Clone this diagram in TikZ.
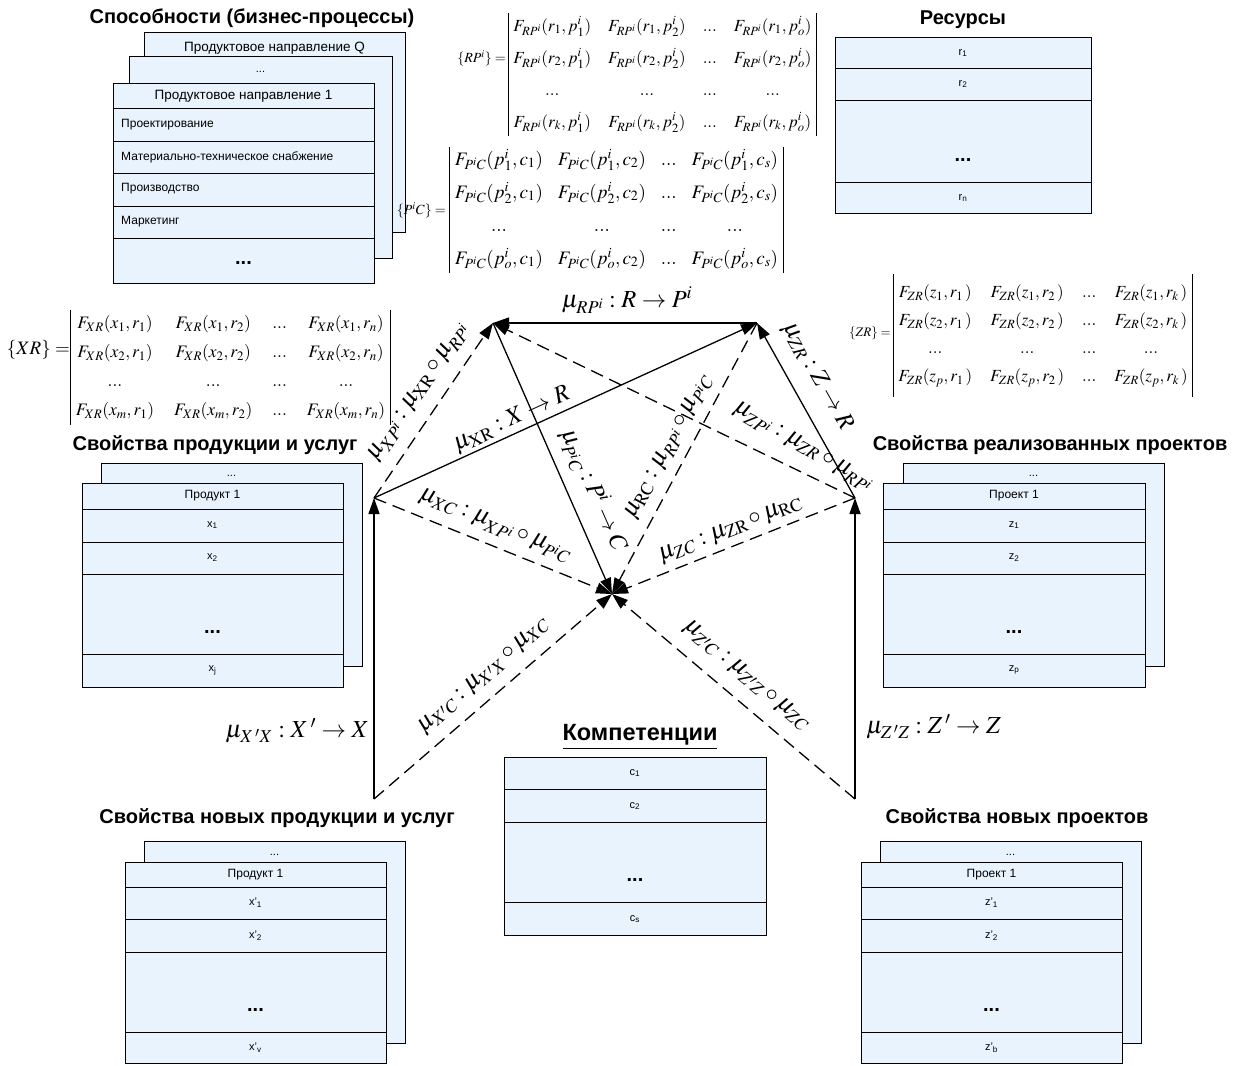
\documentclass[tikz,border=0pt]{standalone}
\usepackage{mathptmx}
\usepackage[no-math]{fontspec}
\setmainfont{Liberation Sans}
\usetikzlibrary{arrows.meta,matrix}
\definecolor{boxfill}{RGB}{232,243,253}
\begin{document}
\begin{tikzpicture}[x=1pt,y=-1pt]
\tikzset{
 bx/.style={draw=black, fill=boxfill, line width=0.9pt},
 sepl/.style={draw=black, line width=0.9pt},
 ttl/.style={font=\fontsize{20}{24}\selectfont\bfseries, inner sep=0},
 hdr/.style={font=\fontsize{13.5}{16}\selectfont, inner sep=0},
 itm/.style={font=\fontsize{12}{14}\selectfont, inner sep=0},
 itml/.style={itm, anchor=west},
 sitm/.style={font=\fontsize{11}{13}\selectfont, inner sep=0},
 bdots/.style={font=\fontsize{20}{22}\selectfont\bfseries, inner sep=0},
 lbl/.style={font=\fontsize{24.5}{29}\selectfont, inner sep=0},
 mlbl/.style={font=\fontsize{14}{17}\selectfont, inner sep=0},
 sl/.style={line width=1.3pt, -{Triangle[length=16pt,width=11pt]}},
 dl/.style={sl, dash pattern=on 13pt off 7pt},
 mat/.style={matrix of math nodes, inner xsep=5pt, inner ysep=4pt,
   nodes={inner sep=0, text height=14pt, text depth=5pt, font=\fontsize{19}{23}\selectfont}},
 mbar/.style={line width=0.9pt},
}
\fill[white] (0,0) rectangle (1236,1065);
\useasboundingbox (0,0) rectangle (1236,1065);

% ---------- Capabilities block ----------
\node[ttl] (capT) at (252,18) {Способности (бизнес-процессы)};
\draw[bx] (144,32) rectangle (405,232);
\node[hdr] (capQ) at (274.5,48) {Продуктовое направление Q};
\draw[bx] (129,56) rectangle (392,258);
\node[sitm] (capM) at (260.5,72) {...};
\draw[bx] (113,83) rectangle (374,283);
\draw[sepl] (113,108) -- (374,108);
\draw[sepl] (113,141) -- (374,141);
\draw[sepl] (113,173) -- (374,173);
\draw[sepl] (113,206) -- (374,206);
\draw[sepl] (113,238) -- (374,238);
\node[hdr] (cap1) at (243.5,96) {Продуктовое направление 1};
\node[itml] (capA) at (121,125) {Проектирование};
\node[itml] (capB) at (121,157) {Материально-техническое снабжение};
\node[itml] (capC) at (121,189) {Производство};
\node[itml] (capD) at (121,222) {Маркетинг};
\node[bdots] (capE) at (243.5,263) {...};

% ---------- Resources ----------
\node[ttl] (resT) at (963,20) {Ресурсы};
\draw[bx] (835,37) rectangle (1091,213);
\draw[sepl] (835,68) -- (1091,68);
\draw[sepl] (835,100) -- (1091,100);
\draw[sepl] (835,182) -- (1091,182);
\node[sitm] (r1) at (963,53) {r\textsubscript{1}};
\node[sitm] (r2) at (963,84) {r\textsubscript{2}};
\node[bdots] (rd) at (963,160) {...};
\node[sitm] (rn) at (963,198) {r\textsubscript{n}};

% ---------- Matrices ----------
\node[mlbl, anchor=east] (RPl) at (506,58) {$\{RP^i\}=$};
\matrix (RPm) [mat, row sep=13pt, column sep=17pt,
  nodes={font=\fontsize{17}{20}\selectfont}] at (662.5,74.5) {
F_{RP^i}(r_1,p_1^i) & F_{RP^i}(r_1,p_2^i) & ... & F_{RP^i}(r_1,p_o^i) \\
F_{RP^i}(r_2,p_1^i) & F_{RP^i}(r_2,p_2^i) & ... & F_{RP^i}(r_2,p_o^i) \\
... & ... & ... & ... \\
F_{RP^i}(r_k,p_1^i) & F_{RP^i}(r_k,p_2^i) & ... & F_{RP^i}(r_k,p_o^i) \\
};
\draw[mbar] (RPm.north west) -- (RPm.south west);
\draw[mbar] (RPm.north east) -- (RPm.south east);

\node[mlbl, anchor=east] (PCl) at (446,210) {$\{P^iC\}=$};
\matrix (PCm) [mat, row sep=14pt, column sep=15pt] at (616.5,210) {
F_{P^iC}(p_1^i,c_1) & F_{P^iC}(p_1^i,c_2) & ... & F_{P^iC}(p_1^i,c_s) \\
F_{P^iC}(p_2^i,c_1) & F_{P^iC}(p_2^i,c_2) & ... & F_{P^iC}(p_2^i,c_s) \\
... & ... & ... & ... \\
F_{P^iC}(p_o^i,c_1) & F_{P^iC}(p_o^i,c_2) & ... & F_{P^iC}(p_o^i,c_s) \\
};
\draw[mbar] (PCm.north west) -- (PCm.south west);
\draw[mbar] (PCm.north east) -- (PCm.south east);

\node[font=\fontsize{19}{23}\selectfont, inner sep=0, anchor=east] (XRl) at (70,350) {$\{XR\}=$};
\matrix (XRm) [mat, row sep=10pt, column sep=20pt,
  nodes={font=\fontsize{17.5}{21}\selectfont}] at (230.5,367.5) {
F_{XR}(x_1,r_1) & F_{XR}(x_1,r_2) & ... & F_{XR}(x_1,r_n) \\
F_{XR}(x_2,r_1) & F_{XR}(x_2,r_2) & ... & F_{XR}(x_2,r_n) \\
... & ... & ... & ... \\
F_{XR}(x_m,r_1) & F_{XR}(x_m,r_2) & ... & F_{XR}(x_m,r_n) \\
};
\draw[mbar] (XRm.north west) -- (XRm.south west);
\draw[mbar] (XRm.north east) -- (XRm.south east);

\node[font=\fontsize{13}{15}\selectfont, inner sep=0, anchor=east] (ZRl) at (891,333) {$\{ZR\}=$};
\matrix (ZRm) [mat, inner ysep=10pt, row sep=10pt, column sep=18pt,
  nodes={font=\fontsize{17}{20}\selectfont, text height=13pt, text depth=5pt}] at (1043,335.5) {
F_{ZR}(z_1,r_1\,) & F_{ZR}(z_1,r_2\,) & ... & F_{ZR}(z_1,r_k\,) \\
F_{ZR}(z_2,r_1\,) & F_{ZR}(z_2,r_2\,) & ... & F_{ZR}(z_2,r_k\,) \\
... & ... & ... & ... \\
F_{ZR}(z_p,r_1\,) & F_{ZR}(z_p,r_2\,) & ... & F_{ZR}(z_p,r_k\,) \\
};
\draw[mbar] (ZRm.north west) -- (ZRm.south west);
\draw[mbar] (ZRm.north east) -- (ZRm.south east);

% ---------- Products block ----------
\node[ttl] (xT) at (215,445) {Свойства продукции и услуг};
\draw[bx] (101,463) rectangle (362,666);
\node[sitm] (xM) at (231.5,476) {...};
\draw[bx] (82,483) rectangle (343,687);
\draw[sepl] (82,509) -- (343,509);
\draw[sepl] (82,542) -- (343,542);
\draw[sepl] (82,574) -- (343,574);
\draw[sepl] (82,654) -- (343,654);
\node[itm] (xH) at (212.5,496) {Продукт 1};
\node[sitm] (x1) at (212.5,525) {x\textsubscript{1}};
\node[sitm] (x2) at (212.5,558) {x\textsubscript{2}};
\node[bdots] (xd) at (212.5,632) {...};
\node[sitm] (xj) at (212.5,670) {x\textsubscript{j}};

% ---------- Projects block ----------
\node[ttl] (zT) at (1050,445) {Свойства реализованных проектов};
\draw[bx] (903,463) rectangle (1164,666);
\node[sitm] (zM) at (1033.5,476) {...};
\draw[bx] (883,483) rectangle (1145,687);
\draw[sepl] (883,509) -- (1145,509);
\draw[sepl] (883,542) -- (1145,542);
\draw[sepl] (883,574) -- (1145,574);
\draw[sepl] (883,654) -- (1145,654);
\node[itm] (zH) at (1014,496) {Проект 1};
\node[sitm] (z1) at (1014,525) {z\textsubscript{1}};
\node[sitm] (z2) at (1014,558) {z\textsubscript{2}};
\node[bdots] (zd) at (1014,632) {...};
\node[sitm] (zp) at (1014,670) {z\textsubscript{p}};

% ---------- New products block ----------
\node[ttl] (xnT) at (277,818) {Свойства новых продукции и услуг};
\draw[bx] (144,841) rectangle (405,1043);
\node[sitm] (xnM) at (274.5,855) {...};
\draw[bx] (125,862) rectangle (386,1063);
\draw[sepl] (125,887) -- (386,887);
\draw[sepl] (125,919) -- (386,919);
\draw[sepl] (125,952) -- (386,952);
\draw[sepl] (125,1032) -- (386,1032);
\node[itm] (xnH) at (255.5,875) {Продукт 1};
\node[sitm] (xn1) at (255.5,903) {x'\textsubscript{1}};
\node[sitm] (xn2) at (255.5,936) {x'\textsubscript{2}};
\node[bdots] (xnd) at (255.5,1010) {...};
\node[sitm] (xnv) at (255.5,1048) {x'\textsubscript{v}};

% ---------- New projects block ----------
\node[ttl] (znT) at (1017,818) {Свойства новых проектов};
\draw[bx] (880,841) rectangle (1141,1043);
\node[sitm] (znM) at (1010.5,855) {...};
\draw[bx] (861,862) rectangle (1122,1063);
\draw[sepl] (861,887) -- (1122,887);
\draw[sepl] (861,919) -- (1122,919);
\draw[sepl] (861,952) -- (1122,952);
\draw[sepl] (861,1032) -- (1122,1032);
\node[itm] (znH) at (991.5,875) {Проект 1};
\node[sitm] (zn1) at (991.5,903) {z'\textsubscript{1}};
\node[sitm] (zn2) at (991.5,936) {z'\textsubscript{2}};
\node[bdots] (znd) at (991.5,1010) {...};
\node[sitm] (znb) at (991.5,1048) {z'\textsubscript{b}};

% ---------- Competences block ----------
\node[font=\fontsize{23.5}{27}\selectfont\bfseries, inner sep=0] (cT) at (640,737) {\underline{Компетенции}};
\draw[bx] (504,757) rectangle (766,935);
\draw[sepl] (504,789) -- (766,789);
\draw[sepl] (504,822) -- (766,822);
\draw[sepl] (504,902) -- (766,902);
\node[sitm] (c1) at (635,773) {c\textsubscript{1}};
\node[sitm] (c2) at (635,806) {c\textsubscript{2}};
\node[bdots] (cd) at (635,880) {...};
\node[sitm] (cs) at (635,919) {c\textsubscript{s}};

% ---------- Graph vertices ----------
\coordinate (P) at (493,323);
\coordinate (R) at (757,323);
\coordinate (X) at (374,498);
\coordinate (Z) at (855,498);
\coordinate (C) at (612,594);
\coordinate (Xn) at (374,799);
\coordinate (Zn) at (855,799);

% ---------- Connectors ----------
\draw[sl] (R) -- (P);
\draw[sl] (X) -- (R);
\draw[sl] (Z) -- (R);
\draw[sl] (P) -- (C);
\draw[dl] (X) -- (P);
\draw[dl] (Z) -- (P);
\draw[dl] (R) -- (C);
\draw[dl] (X) -- (C);
\draw[dl] (Z) -- (C);
\draw[dl] (Xn) -- (C);
\draw[dl] (Zn) -- (C);
\draw[sl] (Xn) -- (X);
\draw[sl] (Zn) -- (Z);

% ---------- Connector labels ----------
\node[lbl] (lRP) at (627,300) {$\mu_{RP^i} : R \to P^i$};
\node[lbl, rotate=24.6] (lXR) at (512,420) {$\mu_{\mathrm{XR}} : X \to R$};
\node[lbl, rotate=-60.7] (lZR) at (817,377) {$\mu_{ZR} : Z \to R$};
\node[lbl, rotate=-66.3] (lPC) at (594,490) {$\mu_{P^iC} : P^i \to C$};
\node[lbl, rotate=55.8] (lXP) at (419,392) {$\mu_{XP^i} : \mu_{\mathrm{XR}} \circ \mu_{RP^i}$};
\node[lbl, rotate=-30] (lZP) at (803,447) {$\mu_{ZP^i} : \mu_{ZR} \circ \mu_{RP^i}$};
\node[lbl, rotate=61.9] (lRC) at (669,447) {$\mu_{\mathrm{RC}} : \mu_{RP^i} \circ \mu_{P^iC}$};
\node[lbl, rotate=-22] (lXC) at (495,526) {$\mu_{XC} : \mu_{XP^i} \circ \mu_{P^iC}$};
\node[lbl, rotate=21.6] (lZC) at (731,530) {$\mu_{ZC} : \mu_{\mathrm{ZR}} \circ \mu_{\mathrm{RC}}$};
\node[lbl, rotate=40.7] (lXnC) at (484,676) {$\mu_{X'C} : \mu_{X'X} \circ \mu_{XC}$};
\node[lbl, rotate=-40.2] (lZnC) at (746,676) {$\mu_{Z'C} : \mu_{Z'Z} \circ \mu_{ZC}$};
\node[lbl, anchor=east] (lXnX) at (369,731) {$\mu_{X\,'X} : X\,' \to X$};
\node[lbl, anchor=west] (lZnZ) at (866,727) {$\mu_{Z\,'Z} : Z\,' \to Z$};
\end{tikzpicture}
\end{document}
